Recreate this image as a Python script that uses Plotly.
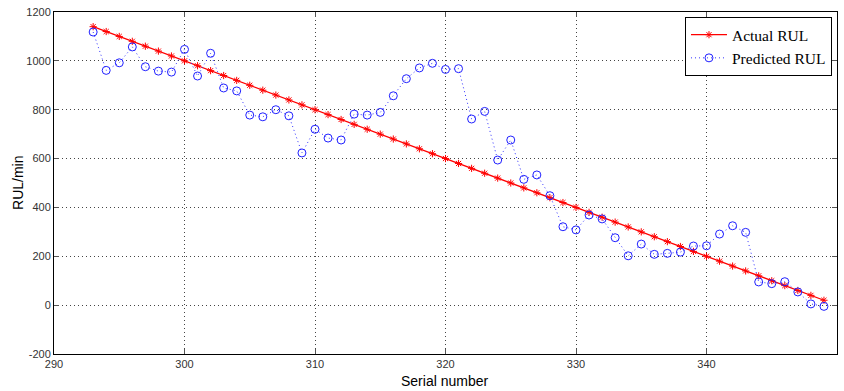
import plotly.graph_objects as go

serial = list(range(293, 350))
actual_rul = [1140 - 20 * i for i in range(57)]
predicted_rul = [1118, 961, 992, 1057, 976, 958, 954, 1047, 938, 1031,
                 889, 877, 778, 771, 800, 775, 623, 720, 684, 676,
                 782, 778, 789, 857, 927, 971, 990, 965, 968, 762,
                 793, 594, 676, 515, 533, 448, 321, 308, 369, 353,
                 276, 202, 250, 208, 212, 217, 242, 243, 291, 325,
                 298, 95, 88, 96, 54, 5, -5]
x_ticks = [290, 300, 310, 320, 330, 340, 350]
y_ticks = [-200, 0, 200, 400, 600, 800, 1000, 1200]
y_tick_labels = ["-200", "0", "200", "400", "600", "800", "1000", "1200"]

fig = go.Figure()
fig.add_trace(go.Scatter(
    x=serial, y=actual_rul, name="Actual RUL", mode="lines+markers",
    line=dict(color="#ff0000", width=1.3),
    marker=dict(symbol="asterisk", size=6, color="#ff0000",
                line=dict(color="#ff0000", width=1)),
))
fig.add_trace(go.Scatter(
    x=serial, y=predicted_rul, name="Predicted RUL", mode="lines+markers",
    line=dict(color="#3030ff", width=1, dash="1px,3px"),
    marker=dict(symbol="circle-open", size=8, color="#2020ff",
                line=dict(color="#2020ff", width=1)),
))

axis_common = dict(
    showgrid=True, gridcolor="#444444", griddash="1px,3px", gridwidth=1,
    showline=True, linecolor="#000000", linewidth=1, mirror="ticks",
    ticks="inside", ticklen=5, tickcolor="#555555",
    tickfont=dict(family="Liberation Sans, Arial", size=11, color="#333333"),
    zeroline=False, automargin=False,
)

fig.update_layout(
    width=844, height=391,
    margin=dict(l=54, r=7, t=12, b=37),
    paper_bgcolor="white", plot_bgcolor="white",
    showlegend=True,
    legend=dict(
        x=0.9936, y=0.985, xanchor="right", yanchor="top",
        bgcolor="white", bordercolor="#000000", borderwidth=1,
        font=dict(family="Liberation Serif, Times New Roman", size=15.5, color="#000000"),
        tracegroupgap=0, itemwidth=36,
    ),
    xaxis=dict(range=[290, 350], tickvals=x_ticks, **axis_common),
    yaxis=dict(range=[-200, 1200], tickvals=y_ticks, ticktext=y_tick_labels,
               **axis_common),
    annotations=[
        dict(text="Serial number", x=0.499, y=-0.078, xref="paper", yref="paper",
             xanchor="center", yanchor="middle", showarrow=False,
             font=dict(family="Liberation Sans, Arial", size=14, color="#000000")),
        dict(text="RUL/min", x=-0.046, y=0.5, xref="paper", yref="paper",
             xanchor="center", yanchor="middle", showarrow=False, textangle=-90,
             font=dict(family="Liberation Sans, Arial", size=14, color="#000000")),
    ],
)

fig.write_html("out.html", config={"displayModeBar": False},
               post_script="document.body.style.margin='0';document.body.style.overflow='hidden';")
